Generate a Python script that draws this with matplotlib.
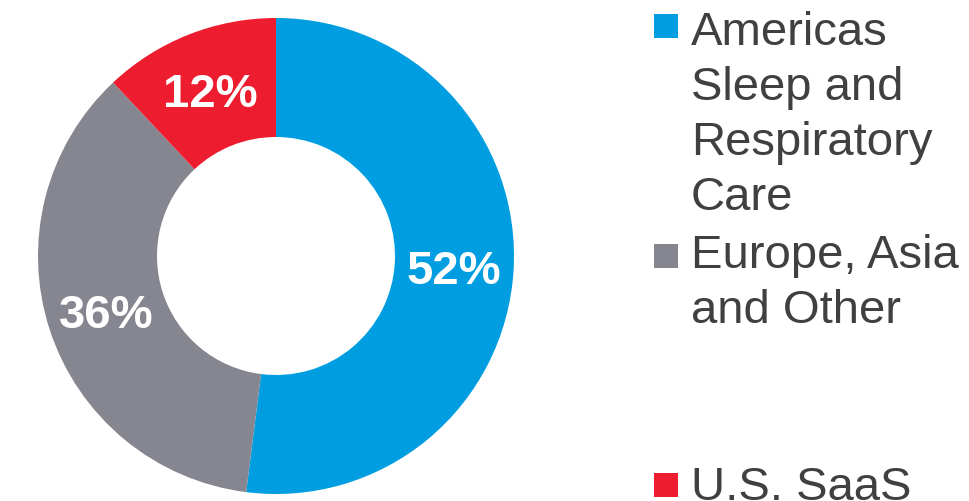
import matplotlib.pyplot as plt
from matplotlib.patches import Rectangle

plt.rcParams['font.family'] = ['Liberation Sans', 'DejaVu Sans']

# Datos del gráfico
segmentos = ["Americas\nSleep and\nRespiratory\nCare", "Europe, Asia\nand Other", "U.S. SaaS"]
valores = [52, 36, 12]
colores = ["#009EE0", "#868690", "#ED1C2E"]

W, H = 969, 501
fig = plt.figure(figsize=(W / 100, H / 100), dpi=100)
ax = fig.add_axes([0, 0, 1, 1])
ax.set_aspect('equal')
ax.axis('off')

# Dona
radio = 238
wedges, _, autotexts = ax.pie(
    valores, colors=colores, startangle=90, counterclock=False,
    center=(276, H - 256), radius=radio,
    wedgeprops=dict(width=radio * 0.5, linewidth=0),
    autopct=lambda p: f"{p:.0f}%", pctdistance=0.75,
    textprops=dict(color='white', fontsize=34, fontweight='bold'),
)
ax.set_xlim(0, W)
ax.set_ylim(0, H)

# centrar las etiquetas por la altura de las mayúsculas
for t in autotexts:
    x, y = t.get_position()
    t.set_va('baseline')
    t.set_position((x, y - 16.5))

# Leyenda manual (posiciones medidas desde arriba, en px)
tops_cuadro = [14, 244, 473]
bases_texto = [45, 268, 500]
interlinea = 55
for nombre, col, yc, yb in zip(segmentos, colores, tops_cuadro, bases_texto):
    ax.add_patch(Rectangle((654, H - yc - 24), 24, 24, color=col, linewidth=0))
    for k, linea in enumerate(nombre.split("\n")):
        ax.text(691, H - yb - k * interlinea, linea, fontsize=34, color='#404040',
                va='baseline', ha='left')

fig.savefig("out.png", dpi=100)
